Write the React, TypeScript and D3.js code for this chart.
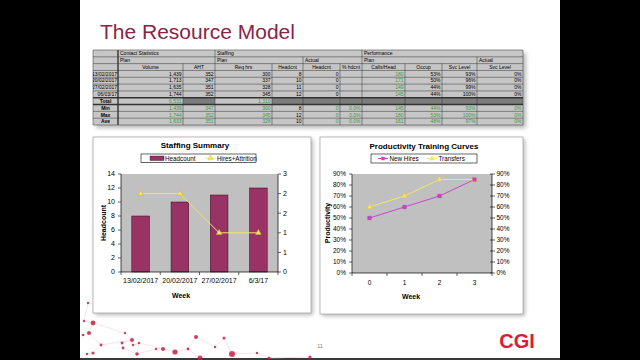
import * as d3 from "d3";

// Staffing summary
const WEEKS = ["13/02/2017", "20/02/2017", "27/02/2017", "6/3/17"];
const HEADCOUNT = [8, 10, 11, 12];
const HIRES_ATTRITION = [2, 2, 1, 1];
const HEADCOUNT_TICKS = [0, 2, 4, 6, 8, 10, 12, 14];
const CHANGE_TICKS = [0, 0.5, 1, 1.5, 2, 2.5];

// Productivity training curves
const TRAINING_WEEKS = ["0", "1", "2", "3"];
const NEW_HIRES = [0.5, 0.6, 0.7, 0.85];
const TRANSFERS = [0.6, 0.7, 0.85, 0.85];
const PRODUCTIVITY_TICKS = [0, 0.1, 0.2, 0.3, 0.4, 0.5, 0.6, 0.7, 0.8, 0.9];

// Resource table
const GROUP_ROW = [
  { label: "Contact Statistics", from: 1, to: 2 },
  { label: "Staffing", from: 3, to: 6 },
  { label: "Performance", from: 7, to: 10 },
];
const PHASE_ROW = [
  { label: "Plan", from: 1, to: 2 },
  { label: "Plan", from: 3, to: 4 },
  { label: "Actual", from: 5, to: 6 },
  { label: "Plan", from: 7, to: 9 },
  { label: "Actual", from: 10, to: 10 },
];
const COLUMN_HEADERS = ["", "Volume", "AHT", "Req hrs", "Headcnt", "Headcnt", "% hdcnt", "Calls/Head", "Occup", "Svc Level", "Svc Level"];
const ROW_LABELS = ["13/02/2017", "20/02/2017", "27/02/2017", "06/03/17", "Total", "Min", "Max", "Ave"];
// null marks a shaded (not applicable) cell
const TABLE_VALUES: (string | null)[][] = [
  ["1,439", "352", "300", "8", "0", "", "180", "53%", "93%", "0%"],
  ["1,713", "347", "337", "10", "0", "", "171", "50%", "96%", "0%"],
  ["1,635", "351", "328", "11", "0", "", "149", "44%", "99%", "0%"],
  ["1,744", "352", "345", "12", "0", "", "145", "44%", "100%", "0%"],
  ["6,531", null, "1,310", null, null, null, null, null, null, null],
  ["1,439", "347", "300", "8", "0", "0.0%", "145", "44%", "93%", "0%"],
  ["1,744", "352", "345", "12", "0", "0.0%", "180", "53%", "100%", "0%"],
  ["1,633", "351", "328", "10", "0", "0.0%", "161", "48%", "97%", "0%"],
];

// slide ornament (network of dots in the corner)
const DOTS: [number, number, number][] = [
  [88, 303, 1.2], [84, 321, 1.2], [93, 323, 2.4], [89, 333, 2], [83, 335, 1.3], [101, 345, 1.4],
  [93, 353, 1.6], [87, 354, 1.2], [125, 333, 1.2], [132, 340, 2], [122, 343, 1.4], [123, 348, 1.4],
  [133, 345, 1.2], [139, 343, 1.2], [137, 354, 1.8], [156, 349, 1.2], [163, 349, 2], [175, 352, 2.6],
  [188, 349, 1.4], [196, 337, 2], [200, 358, 2.5], [215, 347, 1.2], [224, 338, 1.5], [232, 354, 3],
  [257, 353, 1.2], [269, 358, 1.5], [310, 357, 1.6],
];
const LINKS: [number, number][] = [
  [0, 1], [1, 2], [2, 3], [3, 4], [3, 5], [5, 6], [6, 7], [2, 8], [8, 9], [9, 10], [10, 11], [9, 12],
  [12, 13], [13, 14], [11, 14], [14, 15], [15, 16], [16, 17], [17, 18], [18, 19], [18, 20], [19, 21],
  [21, 22], [22, 23], [23, 24], [24, 25], [25, 26], [5, 9], [13, 16],
];

const FONT = "'Liberation Sans', Arial, sans-serif";
const GREEN = "#3a993a";
const MAROON = "#993366";
const YELLOW = "#f0e868";
const MAGENTA = "#cc44cc";

export default function App() {
  // ---- table geometry ----
  const colWidths = [25, 65, 32, 57, 31, 37, 22, 43, 37, 35, 46];
  const colEdges = colWidths.reduce<number[]>((acc, w) => [...acc, acc[acc.length - 1] + w], [93]);
  const rowY = d3.scaleLinear().domain([0, 11]).range([50, 125]);
  const rowH = rowY(1) - rowY(0);
  const tableLeft = colEdges[0];
  const tableRight = colEdges[colEdges.length - 1];

  // ---- staffing chart ----
  const sx = d3.scaleBand<string>().domain(WEEKS).range([121, 278]);
  const sy = d3.scaleLinear().domain([0, 14]).range([272, 174]);
  const sy2 = d3.scaleLinear().domain([0, 2.5]).range([272, 174]);
  const barW = sx.bandwidth() * 0.45;
  const sMid = (w: string) => sx(w)! + sx.bandwidth() / 2;
  const hiresLine = d3.line<number>().x((_, i) => sMid(WEEKS[i])).y((d) => sy2(d));

  // ---- productivity chart ----
  const px = d3.scaleBand<string>().domain(TRAINING_WEEKS).range([352, 492]);
  const py = d3.scaleLinear().domain([0, 0.9]).range([273, 174]);
  const pMid = (w: string) => px(w)! + px.bandwidth() / 2;
  const curve = d3.line<number>().x((_, i) => pMid(TRAINING_WEEKS[i])).y((d) => py(d));
  const pct = d3.format(".0%");

  const tri = d3.symbol(d3.symbolTriangle, 14)()!;
  const square = d3.symbol(d3.symbolSquare, 12)()!;

  const cellText = (r: number, c: number) => {
    const summary = r >= 4;
    if (summary) return c === 4 ? "#000" : GREEN;
    return c === 7 ? GREEN : "#000";
  };

  return (
    <svg width={640} height={360} style={{ position: "absolute", left: 0, top: 0 }} fontFamily={FONT}>
      <defs>
        <filter id="soft" x="-20%" y="-20%" width="140%" height="140%">
          <feGaussianBlur stdDeviation="2" />
        </filter>
        <clipPath id="dateCol">
          <rect x={tableLeft} y={rowY(0)} width={colWidths[0]} height={rowY(11) - rowY(0)} />
        </clipPath>
      </defs>

      {/* slide frame */}
      <rect width={640} height={360} fill="#000" />
      <rect x={80} y={0} width={480} height={358} fill="#fff" />
      <rect x={80} y={358} width={480} height={2} fill="#3a3a3a" />

      {/* corner ornament */}
      <g>
        {LINKS.map(([a, b], i) => (
          <line key={i} x1={DOTS[a][0]} y1={DOTS[a][1]} x2={DOTS[b][0]} y2={DOTS[b][1]} stroke="#f1d3d8" strokeWidth={0.6} />
        ))}
        {DOTS.map(([x, y, r], i) => (
          <circle key={i} cx={x} cy={y} r={r} fill="#c8203e" opacity={0.85} />
        ))}
      </g>

      <text x={100} y={39} fontSize={21} fill="#8b2346">The Resource Model</text>

      {/* ---- resource table ---- */}
      <rect x={tableLeft + 3} y={rowY(0) + 3} width={tableRight - tableLeft} height={rowY(11) - rowY(0)} fill="#888" opacity={0.6} filter="url(#soft)" />
      <rect x={tableLeft} y={rowY(0)} width={tableRight - tableLeft} height={rowY(11) - rowY(0)} fill="#c6c6c6" />
      {TABLE_VALUES.map((row, r) =>
        row.map((v, c) =>
          v === null ? (
            <rect key={`s${r}-${c}`} x={colEdges[c + 1]} y={rowY(r + 3)} width={colWidths[c + 1]} height={rowH} fill="#7d7d7d" />
          ) : null
        )
      )}
      {/* horizontal rules */}
      {d3.range(0, 12).map((i) => (
        <line key={`h${i}`} x1={tableLeft} x2={tableRight} y1={rowY(i)} y2={rowY(i)} stroke="#333" strokeWidth={i === 7 || i === 8 ? 1.4 : 0.5} />
      ))}
      {/* vertical rules: group row, phase row, then full grid */}
      {[0, 1, 3, 7, 11].map((c) => (
        <line key={`g${c}`} x1={colEdges[c]} x2={colEdges[c]} y1={rowY(0)} y2={rowY(1)} stroke="#333" strokeWidth={c === 1 ? 1.4 : 0.5} />
      ))}
      {[0, 1, 3, 5, 7, 10, 11].map((c) => (
        <line key={`p${c}`} x1={colEdges[c]} x2={colEdges[c]} y1={rowY(1)} y2={rowY(2)} stroke="#333" strokeWidth={c === 1 ? 1.4 : 0.5} />
      ))}
      {colEdges.map((x, c) => (
        <line key={`v${c}`} x1={x} x2={x} y1={rowY(2)} y2={rowY(11)} stroke="#333" strokeWidth={c === 1 ? 1.4 : 0.5} />
      ))}
      <g fontSize={5} fill="#000">
        {GROUP_ROW.map((g) => (
          <text key={g.label} x={colEdges[g.from] + 2} y={rowY(0) + rowH - 1.6}>{g.label}</text>
        ))}
        {PHASE_ROW.map((p, i) => (
          <text key={i} x={colEdges[p.from] + 2} y={rowY(1) + rowH - 1.6}>{p.label}</text>
        ))}
        {COLUMN_HEADERS.map((h, c) => (
          <text key={c} x={colEdges[c] + colWidths[c] / 2} y={rowY(2) + rowH - 1.6} textAnchor="middle">{h}</text>
        ))}
        <g clipPath="url(#dateCol)">
          {ROW_LABELS.map((l, r) =>
            r < 4 ? (
              <text key={l} x={colEdges[1] - 1} y={rowY(r + 3) + rowH - 1.6} textAnchor="end">{l}</text>
            ) : (
              <text key={l} x={tableLeft + colWidths[0] / 2} y={rowY(r + 3) + rowH - 1.6} textAnchor="middle" fontWeight="bold">{l}</text>
            )
          )}
        </g>
        {TABLE_VALUES.map((row, r) =>
          row.map((v, c) =>
            v ? (
              <text key={`t${r}-${c}`} x={colEdges[c + 2] - 1.5} y={rowY(r + 3) + rowH - 1.6} textAnchor="end" fill={cellText(r, c + 1)}>{v}</text>
            ) : null
          )
        )}
      </g>

      {/* ---- chart panels ---- */}
      <rect x={95} y={139} width={218} height={176} fill="#999" opacity={0.7} filter="url(#soft)" />
      <rect x={322} y={139} width={203} height={177} fill="#999" opacity={0.7} filter="url(#soft)" />
      <rect x={93} y={137} width={218} height={176} fill="#fff" stroke="#a8a8a8" strokeWidth={0.8} />
      <rect x={320} y={137} width={203} height={177} fill="#fff" stroke="#a8a8a8" strokeWidth={0.8} />

      {/* Staffing Summary */}
      <g fontSize={7}>
        <text x={195} y={148} textAnchor="middle" fontSize={8} fontWeight="bold">Staffing  Summary</text>
        <rect x={141} y={154} width={115} height={8.5} fill="#fff" stroke="#000" strokeWidth={0.6} />
        <rect x={150} y={156} width={14} height={4.5} fill={MAROON} stroke="#3d0d22" strokeWidth={0.4} />
        <text x={165} y={160.6} fontSize={6.3}>Headcount</text>
        <line x1={205} x2={216} y1={158.2} y2={158.2} stroke={YELLOW} strokeWidth={1} />
        <path d={tri} transform="translate(210.5,158.2)" fill={YELLOW} stroke="#e6b422" strokeWidth={0.4} />
        <text x={217} y={160.6} fontSize={6.3}>Hires+Attrition</text>

        <rect x={121} y={174} width={157} height={98} fill="#c0c0c0" />
        {WEEKS.map((w, i) => (
          <rect key={w} x={sMid(w) - barW / 2} y={sy(HEADCOUNT[i])} width={barW} height={sy(0) - sy(HEADCOUNT[i])} fill={MAROON} stroke="#2e0a1a" strokeWidth={0.5} />
        ))}
        <path d={hiresLine(HIRES_ATTRITION)!} fill="none" stroke={YELLOW} strokeWidth={1} />
        {HIRES_ATTRITION.map((v, i) => (
          <path key={i} d={tri} transform={`translate(${sMid(WEEKS[i])},${sy2(v)})`} fill={YELLOW} stroke="#e0a030" strokeWidth={0.5} />
        ))}

        {/* axes */}
        <line x1={121} x2={121} y1={174} y2={272} stroke="#000" strokeWidth={0.7} />
        <line x1={278} x2={278} y1={174} y2={272} stroke="#000" strokeWidth={0.7} />
        <line x1={121} x2={278} y1={272} y2={272} stroke="#000" strokeWidth={0.7} />
        {HEADCOUNT_TICKS.map((t) => (
          <g key={t}>
            <line x1={118} x2={121} y1={sy(t)} y2={sy(t)} stroke="#000" strokeWidth={0.6} />
            <text x={115} y={sy(t)} dy="0.35em" textAnchor="end">{t}</text>
          </g>
        ))}
        {CHANGE_TICKS.map((t) => (
          <g key={t}>
            <line x1={278} x2={281} y1={sy2(t)} y2={sy2(t)} stroke="#000" strokeWidth={0.6} />
            <text x={283} y={sy2(t)} dy="0.35em">{Math.round(t)}</text>
          </g>
        ))}
        {WEEKS.map((w) => (
          <g key={w}>
            <line x1={sx(w)!} x2={sx(w)!} y1={272} y2={275} stroke="#000" strokeWidth={0.6} />
            <text x={sMid(w)} y={283} textAnchor="middle">{w}</text>
          </g>
        ))}
        <line x1={278} x2={278} y1={272} y2={275} stroke="#000" strokeWidth={0.6} />
        <text x={181} y={298} textAnchor="middle" fontWeight="bold">Week</text>
        <text transform="translate(105.5,223) rotate(-90)" textAnchor="middle" fontWeight="bold">Headcount</text>
      </g>

      {/* Productivity Training Curves */}
      <g fontSize={6.5}>
        <text x={424} y={148.5} textAnchor="middle" fontSize={8} fontWeight="bold">Productivity  Training  Curves</text>
        <rect x={371} y={154} width={106} height={9} fill="#fff" stroke="#000" strokeWidth={0.6} />
        <line x1={378} x2={388} y1={158.5} y2={158.5} stroke={MAGENTA} strokeWidth={1} />
        <path d={square} transform="translate(383,158.5)" fill={MAGENTA} />
        <text x={389.5} y={161} fontSize={6.3}>New Hires</text>
        <line x1={427} x2={437} y1={158.5} y2={158.5} stroke={YELLOW} strokeWidth={1} />
        <path d={tri} transform="translate(432,158.5)" fill={YELLOW} />
        <text x={438.5} y={161} fontSize={6.3}>Transfers</text>

        <rect x={352} y={174} width={140} height={99} fill="#c0c0c0" />
        <path d={curve(TRANSFERS)!} fill="none" stroke={YELLOW} strokeWidth={1} />
        <path d={curve(NEW_HIRES)!} fill="none" stroke={MAGENTA} strokeWidth={1} />
        {TRANSFERS.map((v, i) => (
          <path key={`t${i}`} d={tri} transform={`translate(${pMid(TRAINING_WEEKS[i])},${py(v)})`} fill={YELLOW} stroke="#e0b040" strokeWidth={0.4} />
        ))}
        {NEW_HIRES.map((v, i) => (
          <path key={`n${i}`} d={square} transform={`translate(${pMid(TRAINING_WEEKS[i])},${py(v)})`} fill={MAGENTA} stroke="#b0209a" strokeWidth={0.4} />
        ))}

        <line x1={352} x2={352} y1={174} y2={273} stroke="#000" strokeWidth={0.7} />
        <line x1={492} x2={492} y1={174} y2={273} stroke="#000" strokeWidth={0.7} />
        <line x1={352} x2={492} y1={273} y2={273} stroke="#000" strokeWidth={0.7} />
        {PRODUCTIVITY_TICKS.map((t) => (
          <g key={t}>
            <line x1={349} x2={352} y1={py(t)} y2={py(t)} stroke="#000" strokeWidth={0.6} />
            <text x={346} y={py(t)} dy="0.35em" textAnchor="end">{pct(t)}</text>
            <line x1={490} x2={495} y1={py(t)} y2={py(t)} stroke="#000" strokeWidth={0.6} />
            <text x={496.5} y={py(t)} dy="0.35em">{pct(t)}</text>
          </g>
        ))}
        {TRAINING_WEEKS.map((w) => (
          <g key={w}>
            <line x1={px(w)!} x2={px(w)!} y1={273} y2={276} stroke="#000" strokeWidth={0.6} />
            <text x={pMid(w)} y={285} textAnchor="middle">{w}</text>
          </g>
        ))}
        <line x1={492} x2={492} y1={273} y2={276} stroke="#000" strokeWidth={0.6} />
        <text x={411} y={299} textAnchor="middle" fontWeight="bold" fontSize={7}>Week</text>
        <text transform="translate(329.5,223) rotate(-90)" textAnchor="middle" fontWeight="bold" fontSize={7}>Productivity</text>
      </g>

      <text x={320} y={348} textAnchor="middle" fontSize={6} fill="#8a8a8a">11</text>
      <text x={517} y={348} textAnchor="middle" fontSize={20} fontWeight="bold" fill="#e11937">CGI</text>
    </svg>
  );
}
